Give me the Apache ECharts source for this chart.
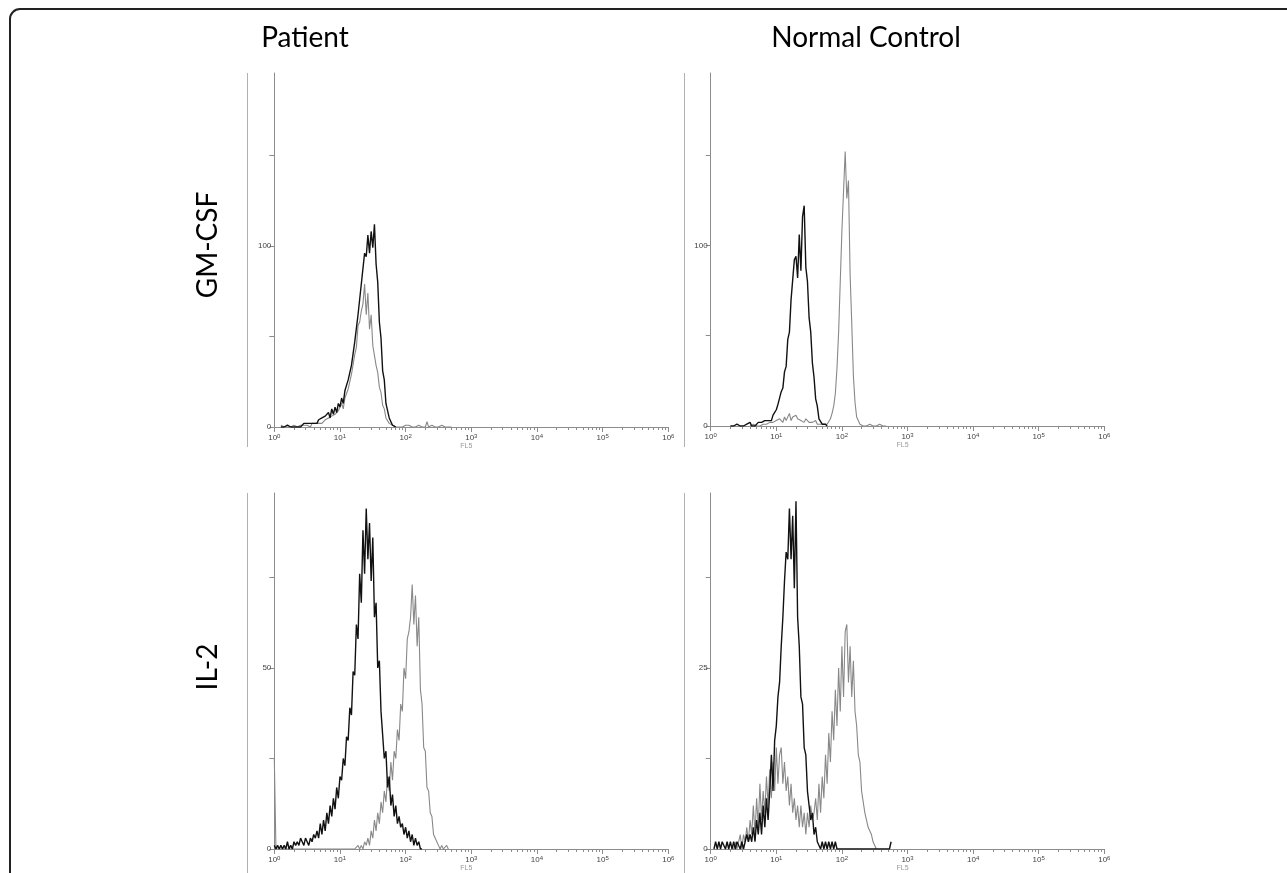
<!DOCTYPE html>
<html>
<head>
<meta charset="utf-8">
<script src="https://cdn.jsdelivr.net/npm/echarts@6/dist/echarts.min.js"></script>
<style>
html,body{margin:0;padding:0;background:#fff;}
#chart{width:1287px;height:873px;}
</style>
</head>
<body>
<div id="chart"></div>
<script>
// ---- Data: histogram counts per channel; channel position = log10(FL5) = start + i*STEP ----
const STEP = 0.025;
const columnTitles = ['Patient', 'Normal Control'];
const rowTitles = ['GM-CSF', 'IL-2'];
const xTickLabels = ['0', '1', '2', '3', '4', '5', '6']; // exponents of 10
const xAxisName = 'FL5';
const yMax = [195.5, 195.5, 98.3, 49.15];
const yTicks = [[0, 50, 100, 150], [0, 50, 100, 150], [0, 25, 50, 75], [0, 12.5, 25, 37.5]];
const yLabels = [[0, 100], [0, 100], [0, 50], [0, 25]];

// GM-CSF, Patient
const gmPatientGrayStart = 0.1;
const gmPatientGray = [1,0,0,1,0,0,0,0,1,0,0,0,1,0,1,0,1,1,0,2,1,2,1,2,3,2,3,4,3,5,4,6,5,7,6,9,8,13,10,16,15,21,20,29,30,40,44,56,58,64,68,79,62,74,54,62,45,44,34,30,22,19,12,10,5,5,2,3,1,2,0,1,0,1,0,0,1,0,1,0,0,1,0,0,1,0,0,1,0,3,0,0,1,0,0,1,0,0,1,0,0,1,0,0,0];
const gmPatientBlackStart = 0.1;
const gmPatientBlack = [0,1,0,0,1,0,0,1,0,1,0,1,0,1,2,1,2,1,2,3,2,3,2,4,3,5,4,6,5,8,5,10,7,11,8,13,11,16,13,20,19,26,25,34,35,47,46,62,61,79,80,96,94,106,96,108,99,112,90,80,58,49,31,26,13,12,5,5,1,2,0];

// GM-CSF, Normal Control
const gmControlGrayStart = 0.6;
const gmControlGray = [0,0,1,0,0,1,0,0,1,0,1,0,2,1,2,1,3,2,4,3,2,5,3,4,7,3,5,4,6,4,5,3,4,2,4,3,2,3,2,1,3,1,2,1,0,1,0,1,2,4,7,11,18,32,52,80,108,130,152,126,136,84,57,28,13,5,3,1,2,0,1,0,0,1,0,0,1,0,0,1,0,0,1,0];
const gmControlBlackStart = 0.3;
const gmControlBlack = [0,1,0,0,1,0,0,1,0,0,1,0,2,0,1,0,1,2,1,2,1,3,2,3,4,3,6,7,9,12,13,19,21,30,33,48,52,70,71,92,94,82,106,86,116,122,88,80,60,52,35,27,15,11,4,4,1,0,1,0];

// IL-2, Patient
const il2PatientGrayStart = 0.0;
const il2PatientGray = [25,0,0,0,0,0,0,0,0,0,0,0,0,0,0,0,0,0,0,0,0,0,0,0,0,0,0,0,0,0,0,0,0,0,0,0,0,0,0,0,0,0,0,0,0,0,0,0,0,0,0,1,0,1,0,2,1,3,1,5,3,8,5,10,7,13,10,16,13,20,16,24,19,27,25,33,30,40,38,50,47,58,60,64,73,62,70,56,64,44,40,28,27,17,16,10,9,4,4,2,1,0,1,0,0,1,0];
const il2PatientBlackStart = 0.0;
const il2PatientBlack = [1,0,1,0,1,0,1,0,2,0,1,0,2,1,2,1,3,2,1,3,2,1,3,2,4,3,5,3,7,4,8,5,10,7,12,9,14,11,17,14,20,19,25,23,31,30,39,37,49,48,62,58,76,68,88,76,94,80,90,74,86,64,68,50,52,38,38,25,27,17,20,12,15,9,12,7,9,6,7,4,6,3,5,2,4,1,3,1,2,0,0];

// IL-2, Normal Control
const il2ControlGrayStart = 0.35;
const il2ControlGray = [0,1,0,1,2,0,2,1,3,1,4,2,6,2,7,3,9,4,8,5,10,6,11,7,12,8,14,9,13,14,9,12,8,10,6,9,5,7,4,6,3,6,3,5,2,5,3,6,4,5,7,4,9,5,10,7,13,9,16,12,19,15,22,17,25,19,28,21,30,31,23,28,21,26,19,17,13,12,8,8,5,5,3,3,2,1,1,0];
const il2ControlBlackStart = 0.05;
const il2ControlBlack = [0,1,0,1,0,1,1,0,1,0,1,0,1,0,1,1,0,1,0,1,2,1,2,1,3,1,4,2,5,2,6,3,7,4,8,13,8,15,17,21,23,28,32,37,41,40,47,40,46,36,48,32,28,21,20,14,13,8,8,4,5,2,3,1,1,0,1,0,1,0,1,0,1,0,1,0,0,0,0,0,0,0,0,0,0,0,0,0,0,0,0,0,0,0,0,0,0,0,0,0,0,0,0,0,0,0,0,0,1];

const panels = [
  {gray: [gmPatientGrayStart, gmPatientGray], black: [gmPatientBlackStart, gmPatientBlack]},
  {gray: [gmControlGrayStart, gmControlGray], black: [gmControlBlackStart, gmControlBlack]},
  {gray: [il2PatientGrayStart, il2PatientGray], black: [il2PatientBlackStart, il2PatientBlack]},
  {gray: [il2ControlGrayStart, il2ControlGray], black: [il2ControlBlackStart, il2ControlBlack]}
];

function toPoints(start, counts) {
  return counts.map((c, i) => [+(start + i * STEP).toFixed(4), c]);
}

// ---- layout ----
const gridPos = [
  {left: 274.3, top: 73, width: 394, height: 354},
  {left: 710.7, top: 73, width: 393.6, height: 353},
  {left: 274.3, top: 493, width: 394, height: 356},
  {left: 710.7, top: 493, width: 393.6, height: 356}
];

const minorTicks = [];
for (let d = 0; d < 6; d++) for (let k = 2; k <= 9; k++) minorTicks.push(d + Math.log10(k));

const axisColor = '#8c8c8c';
const grids = [], xAxes = [], yAxes = [], series = [];
gridPos.forEach((g, i) => {
  grids.push(Object.assign({containLabel: false}, g));
  xAxes.push({
    type: 'value', gridIndex: i, min: 0, max: 6, interval: 1, position: 'bottom',
    axisLine: {show: true, onZero: false, lineStyle: {color: axisColor, width: 1}},
    axisTick: {show: true, length: 5, lineStyle: {color: axisColor}},
    splitLine: {show: false},
    axisLabel: {
      margin: 6, color: '#444', fontFamily: 'Liberation Sans',
      formatter: v => '{b|10}{s|' + xTickLabels[Math.round(v)] + '}',
      rich: {
        b: {fontSize: 8, fontFamily: 'Liberation Sans', color: '#444'},
        s: {fontSize: 6, fontFamily: 'Liberation Sans', color: '#444', verticalAlign: 'bottom', padding: [0, 0, 4, 0]}
      }
    },
    name: xAxisName, nameLocation: 'middle', nameGap: 16,
    nameTextStyle: {fontSize: 7, color: '#999', fontFamily: 'Liberation Sans', padding: [0, 10, 0, 0]}
  });
  xAxes.push({
    type: 'value', gridIndex: i, min: 0, max: 6, position: 'bottom',
    axisLine: {show: false, onZero: false},
    axisTick: {show: true, length: 3, customValues: minorTicks, lineStyle: {color: axisColor}},
    axisLabel: {show: false},
    splitLine: {show: false}
  });
  yAxes.push({
    type: 'value', gridIndex: i, min: 0, max: yMax[i],
    axisLine: {show: true, lineStyle: {color: axisColor, width: 1}},
    axisTick: {show: true, length: 5, customValues: yTicks[i], lineStyle: {color: axisColor}},
    axisLabel: {show: true, customValues: yLabels[i], fontSize: 8, color: '#444', margin: 3, fontFamily: 'Liberation Sans'},
    splitLine: {show: false}
  });
  const p = panels[i];
  series.push({
    type: 'line', xAxisIndex: i * 2, yAxisIndex: i, showSymbol: false, animation: false,
    data: toPoints(p.gray[0], p.gray[1]),
    lineStyle: {color: '#888', width: 1.1}, z: 2
  });
  series.push({
    type: 'line', xAxisIndex: i * 2, yAxisIndex: i, showSymbol: false, animation: false,
    data: toPoints(p.black[0], p.black[1]),
    lineStyle: {color: '#111', width: 1.4}, z: 3
  });
});

const graphic = [
  {type: 'rect', shape: {x: 10, y: 9, width: 1300, height: 900, r: 10}, style: {fill: 'none', stroke: '#222', lineWidth: 2}, silent: true},
  {type: 'line', shape: {x1: 247.5, y1: 73, x2: 247.5, y2: 447}, style: {stroke: '#b0b0b0', lineWidth: 1}},
  {type: 'line', shape: {x1: 684.5, y1: 73, x2: 684.5, y2: 447}, style: {stroke: '#b0b0b0', lineWidth: 1}},
  {type: 'line', shape: {x1: 247.5, y1: 493, x2: 247.5, y2: 873}, style: {stroke: '#b0b0b0', lineWidth: 1}},
  {type: 'line', shape: {x1: 684.5, y1: 493, x2: 684.5, y2: 873}, style: {stroke: '#b0b0b0', lineWidth: 1}},
  {type: 'text', x: 305, y: 38, style: {text: columnTitles[0], font: '28px Lato', fill: '#000', align: 'center', verticalAlign: 'middle'}},
  {type: 'text', x: 866, y: 38, style: {text: columnTitles[1], font: '28px Lato', fill: '#000', align: 'center', verticalAlign: 'middle'}},
  {type: 'text', x: 208, y: 245, rotation: Math.PI / 2, style: {text: rowTitles[0], font: '28px Lato', fill: '#000', align: 'center', verticalAlign: 'middle'}},
  {type: 'text', x: 208, y: 667, rotation: Math.PI / 2, style: {text: rowTitles[1], font: '28px Lato', fill: '#000', align: 'center', verticalAlign: 'middle'}}
];

const chart = echarts.init(document.getElementById('chart'), null, {renderer: 'canvas'});
chart.setOption({
  animation: false,
  backgroundColor: '#fff',
  grid: grids,
  xAxis: xAxes,
  yAxis: yAxes,
  series: series,
  graphic: graphic
});
</script>
</body>
</html>
